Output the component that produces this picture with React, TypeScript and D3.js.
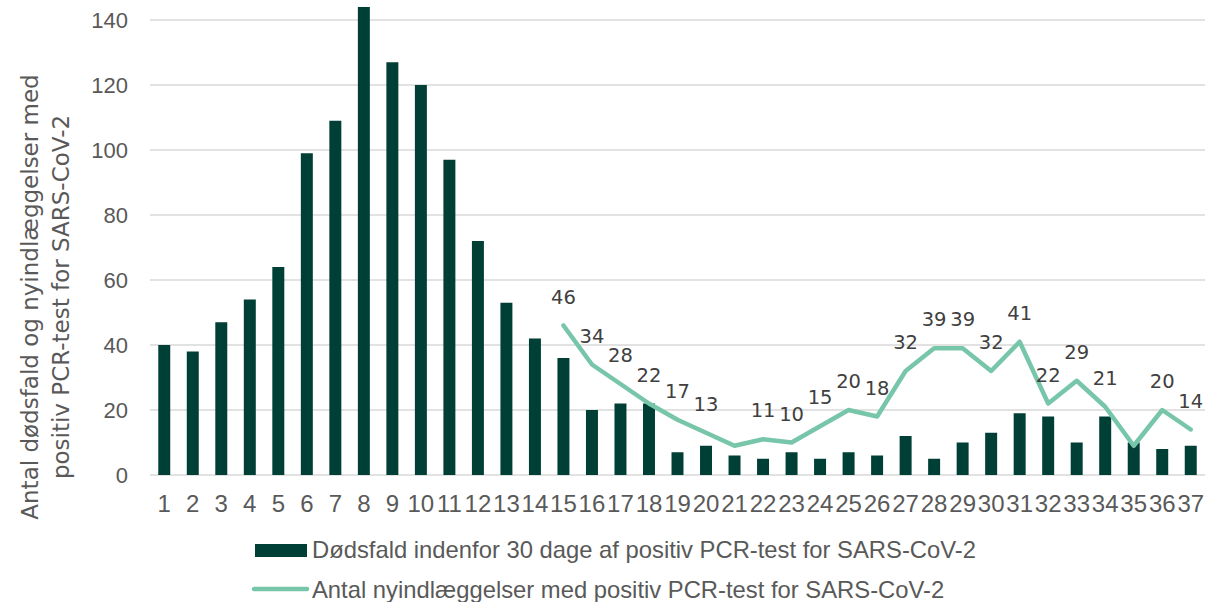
import * as d3 from 'd3';
import React, { useEffect, useRef } from 'react';

const weeks = d3.range(1, 38).map(String);

// Dødsfald indenfor 30 dage af positiv PCR-test
const deaths = [40, 38, 47, 54, 64, 99, 109, 144, 127, 120, 97, 72, 53, 42, 36, 20, 22, 22, 7, 9, 6, 5, 7, 5, 7, 6, 12, 5, 10, 13, 19, 18, 10, 18, 10, 8, 9];

// Nyindlæggelser, from week 15 onwards
const admissionWeeks = d3.range(15, 38).map(String);
const admissions = [46, 34, 28, 22, 17, 13, 9, 11, 10, 15, 20, 18, 32, 39, 39, 32, 41, 22, 29, 21, 9, 20, 14];
// weeks where the chart shows no label
const unlabeled = ['21', '35'];

const yTicks = [0, 20, 40, 60, 80, 100, 120, 140];

const barLabel = 'Dødsfald indenfor 30 dage af positiv PCR-test for SARS-CoV-2';
const lineLabel = 'Antal nyindlæggelser med positiv PCR-test for SARS-CoV-2';
const yTitle = ['Antal dødsfald og nyindlæggelser med', 'positiv PCR-test for SARS-CoV-2'];

const W = 1223;
const H = 602;
const barColor = '#003f35';
const lineColor = '#78c6aa';
const textColor = '#595959';
const font = '"Liberation Sans", Arial, sans-serif';
const wideFont = '"DejaVu Sans", sans-serif';

const App = () => {
    const ref = useRef(null);

    useEffect(() => {
        const svg = d3.select(ref.current);
        svg.selectAll('*').remove();

        const x = d3.scaleBand().domain(weeks).range([150, 1205]).padding(0);
        const y = d3.scaleLinear().domain([0, 140]).range([475, 20]);
        const bw = x.bandwidth() * 0.42;
        const cx = d => x(d) + x.bandwidth() / 2;

        // gridlines
        svg.append('g')
            .selectAll('line')
            .data(yTicks)
            .enter().append('line')
            .attr('x1', 150).attr('x2', 1205)
            .attr('y1', d => y(d)).attr('y2', d => y(d))
            .attr('stroke', '#d9d9d9')
            .attr('stroke-width', 1.5);

        // y tick labels
        svg.append('g')
            .selectAll('text')
            .data(yTicks)
            .enter().append('text')
            .attr('x', 128)
            .attr('y', d => y(d))
            .attr('dy', '0.35em')
            .attr('text-anchor', 'end')
            .attr('font-family', font)
            .attr('font-size', 22)
            .attr('fill', textColor)
            .text(d => d);

        // x tick labels
        svg.append('g')
            .selectAll('text')
            .data(weeks)
            .enter().append('text')
            .attr('x', d => cx(d))
            .attr('y', 512)
            .attr('text-anchor', 'middle')
            .attr('font-family', font)
            .attr('font-size', 24)
            .attr('fill', textColor)
            .text(d => d);

        // bars
        svg.append('g')
            .selectAll('rect')
            .data(weeks)
            .enter().append('rect')
            .attr('x', d => cx(d) - bw / 2)
            .attr('y', (d, i) => y(deaths[i]))
            .attr('width', bw)
            .attr('height', (d, i) => y(0) - y(deaths[i]))
            .attr('fill', barColor);

        // line
        const line = d3.line()
            .x(d => cx(d[0]))
            .y(d => y(d[1]));
        const pts = admissionWeeks.map((w, i) => [w, admissions[i]]);
        svg.append('path')
            .datum(pts)
            .attr('d', line)
            .attr('fill', 'none')
            .attr('stroke', lineColor)
            .attr('stroke-width', 4.5)
            .attr('stroke-linejoin', 'round')
            .attr('stroke-linecap', 'round');

        svg.append('g')
            .selectAll('text')
            .data(pts.filter(p => !unlabeled.includes(p[0])))
            .enter().append('text')
            .attr('x', d => cx(d[0]))
            .attr('y', d => y(d[1]) - 22)
            .attr('text-anchor', 'middle')
            .attr('font-family', wideFont)
            .attr('font-size', 19.5)
            .attr('fill', '#404040')
            .text(d => d[1]);

        // y axis title
        const yt = svg.append('text')
            .attr('transform', 'translate(0,297) rotate(-90)')
            .attr('text-anchor', 'middle')
            .attr('font-family', wideFont)
            .attr('font-size', 23)
            .attr('fill', textColor);
        yt.append('tspan').attr('x', 0).attr('y', 38).text(yTitle[0]);
        yt.append('tspan').attr('x', 0).attr('y', 69).text(yTitle[1]);

        // legend
        const legend = svg.append('g');
        legend.append('rect')
            .attr('x', 255).attr('y', 544)
            .attr('width', 52).attr('height', 13)
            .attr('fill', barColor);
        legend.append('text')
            .attr('x', 312).attr('y', 558)
            .attr('font-family', font).attr('font-size', 23.8)
            .attr('fill', textColor)
            .text(barLabel);
        legend.append('line')
            .attr('x1', 254).attr('x2', 307)
            .attr('y1', 589).attr('y2', 589)
            .attr('stroke', lineColor)
            .attr('stroke-width', 4.5)
            .attr('stroke-linecap', 'round');
        legend.append('text')
            .attr('x', 312).attr('y', 598)
            .attr('font-family', font).attr('font-size', 23.8)
            .attr('fill', textColor)
            .text(lineLabel);
    }, []);

    return (
        <svg ref={ref} width={W} height={H} style={{ position: 'absolute', left: 0, top: 0, background: '#fff' }} />
    );
};

export default App;
